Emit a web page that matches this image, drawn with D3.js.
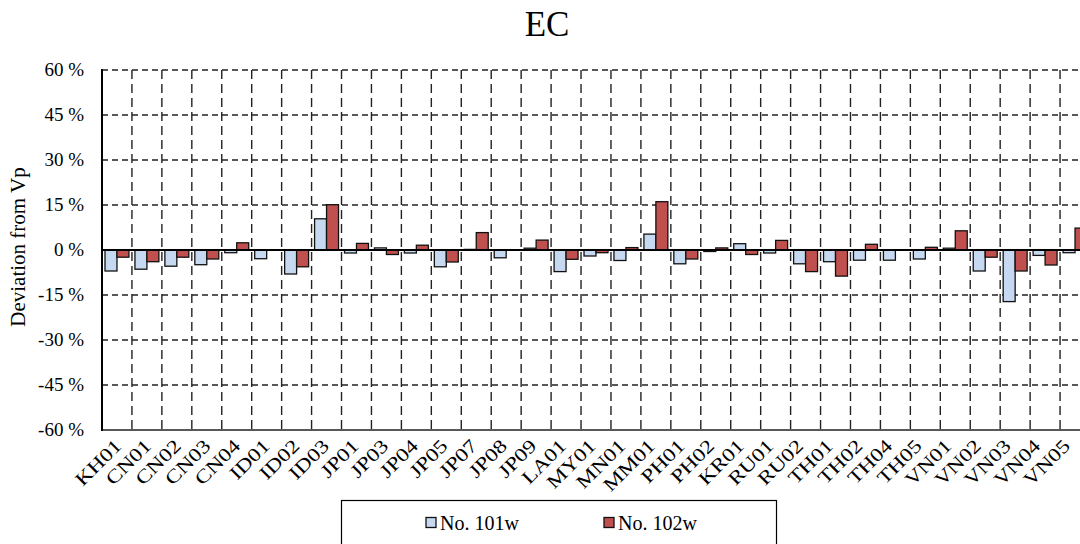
<!DOCTYPE html>
<html><head><meta charset="utf-8">
<script src="https://cdn.jsdelivr.net/npm/d3@7"></script>
<style>body{margin:0;background:#fff}svg{display:block;font-family:"Liberation Serif","Times New Roman",serif}</style>
</head><body><svg id="c" width="1080" height="544"></svg>
<script>
const categories = ["KH01","CN01","CN02","CN03","CN04","ID01","ID02","ID03","JP01","JP03","JP04","JP05","JP07","JP08","JP09","LA01","MY01","MN01","MM01","PH01","PH02","KR01","RU01","RU02","TH01","TH02","TH04","TH05","VN01","VN02","VN03","VN04","VN05"];
const series101 = [-7.0,-6.4,-5.4,-4.9,-0.9,-2.9,-8.0,10.4,-1.0,0.7,-1.0,-5.6,0.2,-2.6,0.6,-7.2,-2.0,-3.5,5.3,-4.6,-0.5,2.1,-1.0,-4.6,-3.9,-3.4,-3.4,-3.0,0.6,-7.0,-17.2,-1.8,-0.9];
const series102 = [-2.4,-3.9,-2.4,-3.0,2.4,0.0,-5.6,15.1,2.2,-1.5,1.6,-4.0,5.8,0.0,3.3,-3.1,-0.9,0.8,16.1,-3.0,0.7,-1.5,3.2,-7.2,-8.7,1.9,0.0,0.9,6.4,-2.4,-7.0,-5.0,7.3];
const seriesNames = ["No. 101w","No. 102w"];
const yTicks = [-60,-45,-30,-15,0,15,30,45,60];
const colors = ["#c6d9f1","#c0504d"];

(function(){
const svg = d3.select("#c");
const pL = 102, pR = 1090, pT = 70, pB = 430;
const x = d3.scaleBand().domain(categories).range([pL, pR]).padding(0);
const xl = d3.scaleBand().domain(categories).range([pL+5, pR-5]).padding(0);
const xs = d3.scaleBand().domain([0,1]).range([0, x.bandwidth()]).paddingInner(0).paddingOuter(0.25);
const y = d3.scaleLinear().domain([-60,60]).range([pB, pT]);

svg.append("g").selectAll("line").data(yTicks.filter(d=>d!==0)).join("line")
  .attr("x1", pL).attr("x2", pR).attr("y1", d=>y(d)).attr("y2", d=>y(d))
  .attr("stroke", "#222").attr("stroke-width", 1.4).attr("stroke-dasharray", d=> d===-60 ? null : "6,4");
svg.append("g").selectAll("line").data(categories.slice(1)).join("line")
  .attr("x1", d=>x(d)).attr("x2", d=>x(d)).attr("y1", pT).attr("y2", pB)
  .attr("stroke", "#222").attr("stroke-width", 1.4).attr("stroke-dasharray", "9,5");

const data = [series101, series102];
data.forEach((vals, si) => {
  svg.append("g").selectAll("rect").data(categories).join("rect")
    .attr("x", (d)=> x(d) + xs(si))
    .attr("width", xs.bandwidth())
    .attr("y", (d,i)=> y(Math.max(0, vals[i])))
    .attr("height", (d,i)=> Math.abs(y(vals[i]) - y(0)))
    .attr("fill", colors[si]).attr("stroke", "#111").attr("stroke-width", 1.3);
});

svg.append("line").attr("x1", pL).attr("x2", pR).attr("y1", y(0)).attr("y2", y(0)).attr("stroke","#000").attr("stroke-width",2.2);
svg.append("line").attr("x1", pL).attr("x2", pL).attr("y1", pT-1).attr("y2", pB+1).attr("stroke","#000").attr("stroke-width",2);

svg.append("g").selectAll("text").data(yTicks).join("text")
  .attr("x", 84).attr("y", d=>y(d)+6).attr("text-anchor","end")
  .attr("font-size", 19).attr("fill","#000").text(d=> d + " %");

svg.append("g").selectAll("text").data(categories).join("text")
  .attr("text-anchor","end").attr("font-size", 19).attr("fill","#000")
  .attr("transform", d=> `translate(${xl(d)+xl.bandwidth()/2+1},${pB+17}) rotate(-45) scale(1.22,1)`)
  .text(d=>d);

svg.append("text").attr("transform", `translate(25,${(pT+pB)/2+ -3}) rotate(-90)`)
  .attr("text-anchor","middle").attr("font-size", 21).attr("fill","#000").text("Deviation from Vp");

svg.append("text").attr("x", 547).attr("y", 36).attr("text-anchor","middle").attr("font-size", 35).attr("fill","#000").text("EC");

const lg = svg.append("g");
lg.append("rect").attr("x", 341.5).attr("y", 500.5).attr("width", 435).attr("height", 60).attr("fill","#fff").attr("stroke","#000").attr("stroke-width",1.2);
const legX = [426, 604];
seriesNames.forEach((n, i) => {
  lg.append("rect").attr("x", legX[i]).attr("y", 517.5).attr("width", 10).attr("height", 10)
    .attr("fill", colors[i]).attr("stroke", "#111").attr("stroke-width", 1.3);
  lg.append("text").attr("x", legX[i]+14).attr("y", 530).attr("font-size", 20).attr("fill","#000").text(n);
});
})();
</script></body></html>
